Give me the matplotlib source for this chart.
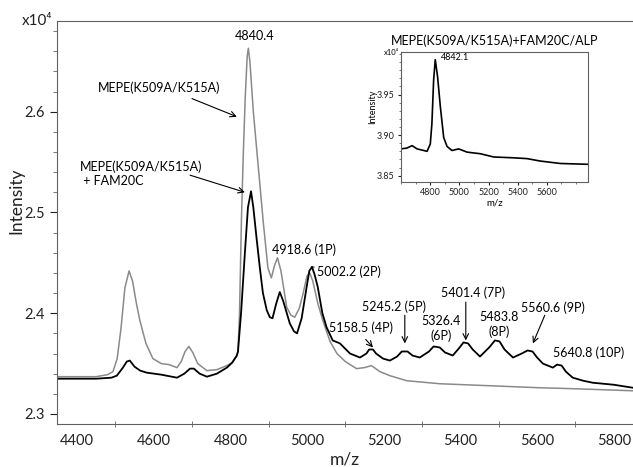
import numpy as np
import matplotlib
matplotlib.use("Agg")
import matplotlib.pyplot as plt
from matplotlib.ticker import MultipleLocator, FixedLocator, FormatStrFormatter

plt.rcParams['font.family'] = ['Lato', 'DejaVu Sans']

# m/z and intensity (x10^4)
mz_gray = [4350, 4400, 4450, 4480, 4494, 4505, 4515, 4525, 4536, 4545, 4555,
           4564, 4580, 4598, 4620, 4640, 4661, 4672, 4682, 4692, 4702, 4715,
           4739, 4765, 4791, 4805, 4817, 4820, 4824, 4829, 4834, 4839, 4844,
           4847, 4851, 4860, 4873, 4886, 4898, 4907, 4915, 4923, 4932, 4947,
           4958, 4968, 4980, 4990, 5000, 5007, 5015, 5028, 5041, 5060, 5078,
           5100, 5129, 5150, 5168, 5190, 5216, 5260, 5346, 5477, 5607, 5700,
           5850]
int_gray = [2.337, 2.337, 2.337, 2.339, 2.342, 2.355, 2.385, 2.425, 2.442,
            2.432, 2.410, 2.393, 2.370, 2.355, 2.350, 2.349, 2.346, 2.352,
            2.362, 2.367, 2.361, 2.350, 2.343, 2.344, 2.348, 2.351, 2.358,
            2.362, 2.400, 2.493, 2.560, 2.615, 2.655, 2.663, 2.650, 2.600,
            2.545, 2.490, 2.445, 2.435, 2.447, 2.455, 2.442, 2.406, 2.398,
            2.396, 2.405, 2.420, 2.437, 2.440, 2.432, 2.410, 2.393, 2.372,
            2.360, 2.352, 2.345, 2.346, 2.348, 2.342, 2.338, 2.333, 2.330,
            2.328, 2.326, 2.325, 2.323]

mz_black = [4350, 4400, 4450, 4490, 4504, 4520, 4530, 4538, 4550, 4565, 4582,
            4620, 4661, 4680, 4695, 4705, 4720, 4739, 4765, 4791, 4805, 4817,
            4820, 4828, 4838, 4846, 4854, 4860, 4868, 4877, 4885, 4895, 4903,
            4910, 4920, 4929, 4938, 4955, 4966, 4974, 4986, 4999, 5006, 5013,
            5020, 5028, 5040, 5051, 5067, 5086, 5112, 5138, 5155, 5162, 5172,
            5180, 5198, 5216, 5235, 5247, 5262, 5275, 5294, 5318, 5330, 5346,
            5360, 5380, 5398, 5408, 5420, 5432, 5451, 5475, 5490, 5502, 5515,
            5537, 5560, 5575, 5588, 5600, 5615, 5641, 5652, 5664, 5675, 5693,
            5720, 5745, 5800, 5850]
int_black = [2.335, 2.335, 2.335, 2.336, 2.338, 2.346, 2.352, 2.353, 2.347,
             2.343, 2.341, 2.339, 2.336, 2.340, 2.345, 2.345, 2.340, 2.337,
             2.340, 2.346, 2.351, 2.358, 2.362, 2.400, 2.460, 2.505, 2.521,
             2.505, 2.476, 2.445, 2.420, 2.403, 2.396, 2.395, 2.410, 2.421,
             2.412, 2.390, 2.382, 2.380, 2.395, 2.426, 2.442, 2.446, 2.438,
             2.426, 2.400, 2.386, 2.373, 2.370, 2.360, 2.356, 2.360, 2.364,
             2.364, 2.360, 2.355, 2.353, 2.357, 2.362, 2.362, 2.358, 2.356,
             2.362, 2.367, 2.366, 2.361, 2.358, 2.366, 2.371, 2.370, 2.364,
             2.357, 2.366, 2.373, 2.372, 2.364, 2.356, 2.360, 2.363, 2.362,
             2.356, 2.350, 2.346, 2.349, 2.348, 2.342, 2.336, 2.333, 2.331,
             2.329, 2.326]

# inset: MEPE(K509A/K515A)+FAM20C/ALP
mz_alp = [4599, 4640, 4675, 4709, 4778, 4800, 4811, 4823, 4834, 4850, 4869,
          4892, 4915, 4949, 4995, 5052, 5144, 5235, 5372, 5464, 5555, 5693,
          5880]
int_alp = [3.883, 3.884, 3.887, 3.883, 3.880, 3.889, 3.914, 3.968, 3.993,
           3.972, 3.935, 3.897, 3.886, 3.881, 3.883, 3.879, 3.877, 3.873,
           3.872, 3.871, 3.868, 3.865, 3.864]
inset_xticks = [4800, 5000, 5200, 5400, 5600]
inset_yticks = [3.85, 3.90, 3.95]

spine_col = '#606060'
txt_col = '#222222'

fig = plt.figure(figsize=(6.33, 4.67), dpi=100)
ax = fig.add_axes([0.090, 0.092, 0.91, 0.863])

ax.plot(mz_gray, int_gray, color='#8a8a8a', linewidth=1.1)
ax.plot(mz_black, int_black, color='black', linewidth=1.3)

ax.set_xlim(4348, 5850)
ax.set_ylim(2.29, 2.69)
ax.xaxis.set_major_locator(MultipleLocator(200))
ax.xaxis.set_minor_locator(FixedLocator(np.arange(4500, 5850, 200)))
ax.yaxis.set_major_locator(MultipleLocator(0.1))
ax.yaxis.set_minor_locator(MultipleLocator(0.02))
ax.yaxis.set_major_formatter(FormatStrFormatter('%.1f'))
ax.tick_params(axis='x', which='major', length=0, pad=7, labelsize=10.5,
               colors=txt_col)
ax.tick_params(axis='x', which='minor', length=5, direction='inout',
               color=spine_col)
ax.tick_params(axis='y', which='major', length=5, labelsize=10.5,
               colors=txt_col)
ax.tick_params(axis='y', which='minor', length=3, color=spine_col)
for s in ['left', 'bottom', 'top']:
    ax.spines[s].set_color(spine_col)
ax.spines['right'].set_visible(False)

ax.set_xlabel('m/z', fontsize=12.5, color=txt_col, labelpad=3)
ax.set_ylabel('Intensity', fontsize=12.5, color=txt_col)
ax.yaxis.set_label_coords(-0.056, 0.555)
fig.text(0.058, 0.955, 'x10⁴', fontsize=11, color=txt_col,
         ha='center', va='center')

# peak labels
fs = 9
ax.text(4864, 2.675, '4840.4', fontsize=fs, ha='center', va='center')
arrow = dict(arrowstyle='->', color='black', lw=0.8, shrinkA=0, shrinkB=0)
ax.annotate('MEPE(K509A/K515A)', xy=(4817, 2.595), xytext=(4614, 2.624),
            fontsize=fs, ha='center', va='center')
ax.annotate('', xy=(4817, 2.595), xytext=(4700, 2.613), arrowprops=arrow)
ax.text(4408, 2.538, 'MEPE(K509A/K515A)\n + FAM20C', fontsize=fs,
        ha='left', va='center', linespacing=1.2)
ax.annotate('', xy=(4838, 2.520), xytext=(4695, 2.537), arrowprops=arrow)
ax.text(4908, 2.463, '4918.6 (1P)', fontsize=fs, ha='left', va='center')
ax.annotate('5002.2 (2P)', xy=(5013, 2.446), xytext=(5026, 2.441),
            fontsize=fs, ha='left', va='center',
            arrowprops=dict(arrowstyle='-', color='black', lw=0.7,
                            shrinkA=0, shrinkB=0))
ax.text(5057, 2.386, '5158.5 (4P)', fontsize=fs, ha='left', va='center')
ax.annotate('', xy=(5172, 2.366), xytext=(5153, 2.374), arrowprops=arrow)
ax.text(5226, 2.406, '5245.2 (5P)', fontsize=fs, ha='center', va='center')
ax.annotate('', xy=(5255, 2.370), xytext=(5255, 2.398), arrowprops=arrow)
ax.text(5349, 2.385, '5326.4\n(6P)', fontsize=fs, ha='center', va='center',
        linespacing=1.2)
ax.text(5432, 2.420, '5401.4 (7P)', fontsize=fs, ha='center', va='center')
ax.annotate('', xy=(5414, 2.373), xytext=(5414, 2.411), arrowprops=arrow)
ax.text(5500, 2.389, '5483.8\n(8P)', fontsize=fs, ha='center', va='center',
        linespacing=1.2)
ax.text(5641, 2.405, '5560.6 (9P)', fontsize=fs, ha='center', va='center')
ax.annotate('', xy=(5589, 2.370), xytext=(5620, 2.398), arrowprops=arrow)
ax.text(5735, 2.361, '5640.8 (10P)', fontsize=fs, ha='center', va='center')

# inset
ins = fig.add_axes([0.6335, 0.611, 0.296, 0.277])
ins.plot(mz_alp, int_alp, color='black', linewidth=1.2)
ins.set_xlim(4599, 5885)
ins.set_ylim(3.8426, 4.002)
ins.xaxis.set_major_locator(FixedLocator(inset_xticks))
ins.xaxis.set_minor_locator(MultipleLocator(100))
ins.yaxis.set_major_locator(FixedLocator(inset_yticks))
ins.yaxis.set_minor_locator(MultipleLocator(0.01))
ins.yaxis.set_major_formatter(FormatStrFormatter('%.2f'))
ins.tick_params(which='major', length=2.5, labelsize=6.5, pad=2,
                colors=txt_col)
ins.tick_params(which='minor', length=1.5, color=spine_col)
for s in ins.spines.values():
    s.set_color(spine_col)
ins.set_title('MEPE(K509A/K515A)+FAM20C/ALP', fontsize=fs, pad=5)
ins.set_xlabel('m/z', fontsize=7, labelpad=1)
ins.set_ylabel('Intensity', fontsize=6.5, labelpad=2)
ins.yaxis.set_label_coords(-0.13, 0.577)
ins.text(-0.01, 1.0, 'x10⁴', fontsize=5.5, transform=ins.transAxes,
         ha='right', va='center')
ins.text(4876, 3.9956, '4842.1', fontsize=6.5, ha='left', va='center')

fig.savefig('out.png', dpi=100)
